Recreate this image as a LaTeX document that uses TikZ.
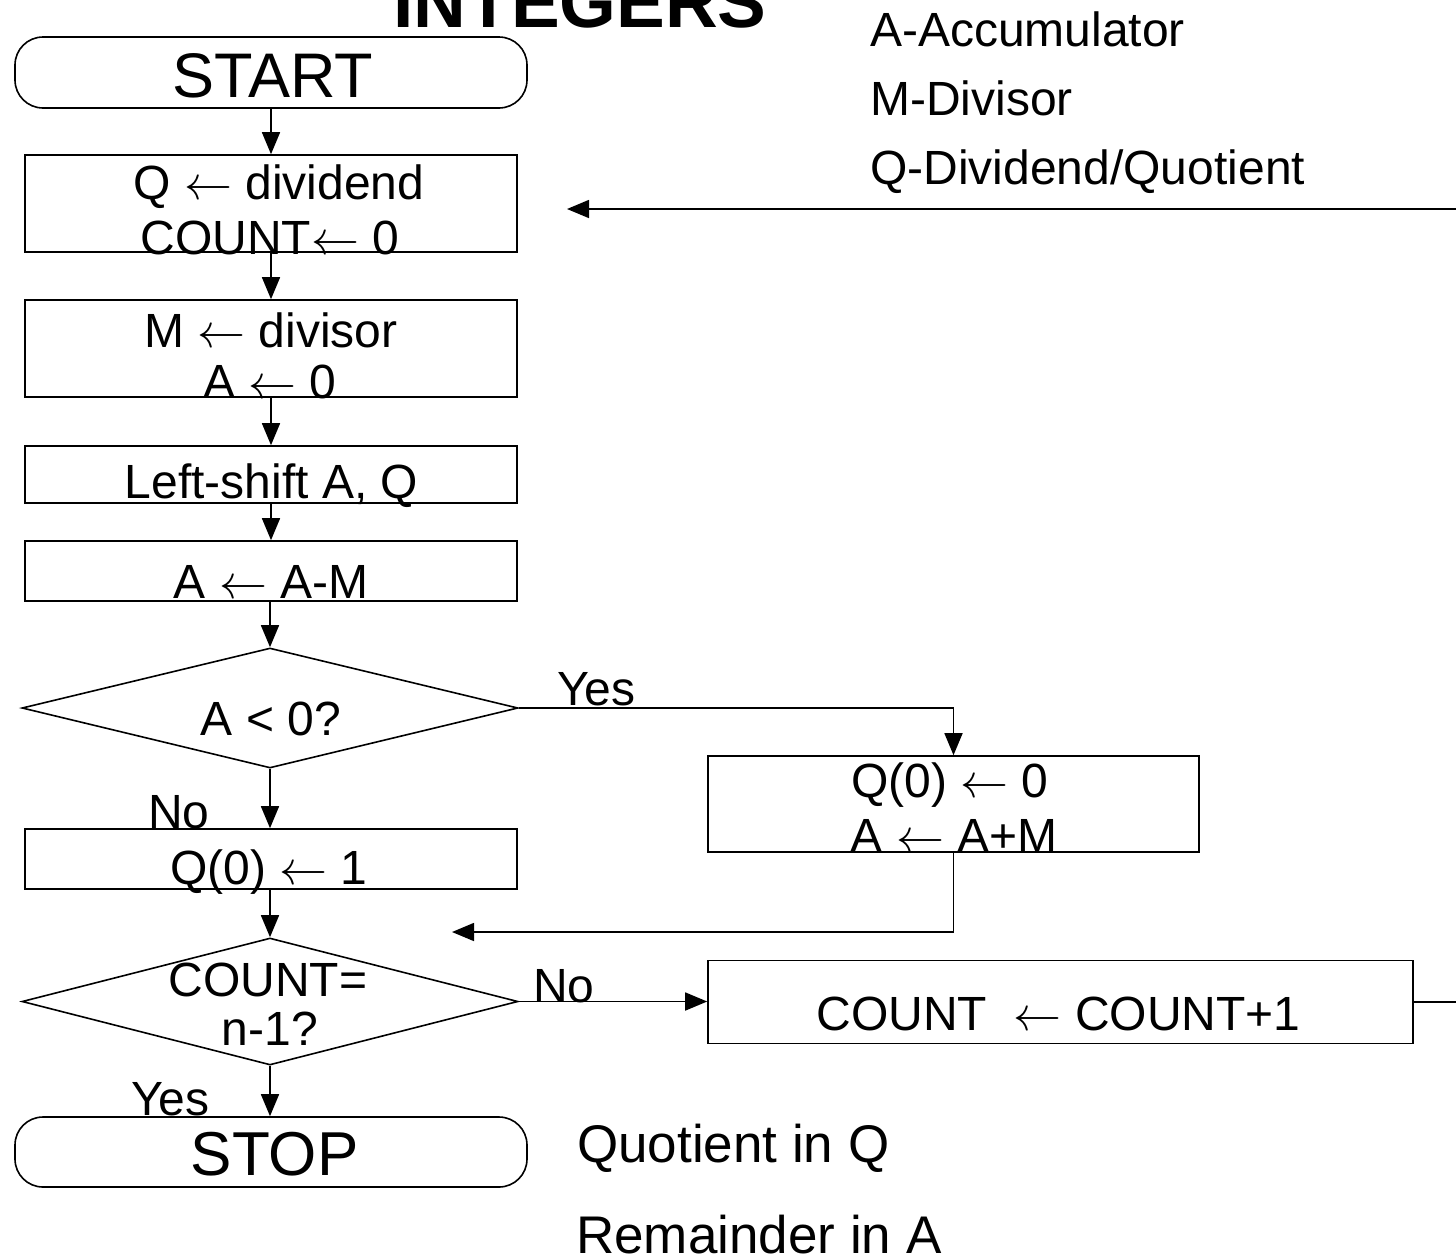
\documentclass[tikz,border=0pt]{standalone}
\usepackage{fix-cm}
\usepackage{fontspec}
\setmainfont{Liberation Sans}
\usetikzlibrary{arrows.meta,shapes.geometric}

\newcommand{\larr}{\ensuremath{\leftarrow}}

\tikzset{
  lbl/.style={inner sep=0pt, font=\fontsize{48}{56}\selectfont},
  note/.style={inner sep=0pt, font=\fontsize{53}{60}\selectfont},
  big/.style={inner sep=0pt, font=\fontsize{63}{70}\selectfont},
  headline/.style={inner sep=0pt, font=\fontsize{73}{80}\selectfont\bfseries},
  procbox/.style={draw, line width=1.6pt, inner sep=0pt},
  terminal/.style={draw, line width=1.6pt, inner sep=0pt, rounded corners=28pt},
  decision/.style={draw, diamond, line width=1.6pt, inner sep=0pt},
  flow/.style={line width=1.6pt, -{Triangle[width=18pt,length=22pt]}},
  link/.style={line width=1.6pt}
}

\begin{document}
\begin{tikzpicture}[x=1pt,y=-1pt]
\useasboundingbox (0,0) rectangle (1456,1259);
\fill[white] (0,0) rectangle (1456,1259);
\clip (0,0) rectangle (1456,1259);

% heading and register legend
\node[headline, anchor=base] (title) at (580,27) {INTEGERS};
\node[lbl, anchor=base west] (legA) at (870,46) {A-Accumulator};
\node[lbl, anchor=base west] (legM) at (870,115) {M-Divisor};
\node[lbl, anchor=base west] (legQ) at (870,184) {Q-Dividend/Quotient};

% flowchart shapes
\node[terminal, minimum width=512, minimum height=71] (start) at (271,72.5) {};
\node[procbox, minimum width=492, minimum height=97] (b1) at (271,203.5) {};
\node[procbox, minimum width=492, minimum height=97] (b2) at (271,348.5) {};
\node[procbox, minimum width=492, minimum height=57] (b3) at (271,474.5) {};
\node[procbox, minimum width=492, minimum height=60] (b4) at (271,571) {};
\node[decision, minimum width=496, minimum height=120] (d1) at (270,708) {};
\node[procbox, minimum width=491, minimum height=96] (b5) at (953.5,804) {};
\node[procbox, minimum width=492, minimum height=60] (b6) at (271,859) {};
\node[decision, minimum width=496, minimum height=127] (d2) at (270,1001.5) {};
\node[procbox, minimum width=705, minimum height=83] (b7) at (1060.5,1002) {};
\node[terminal, minimum width=512, minimum height=70] (stop) at (271,1152) {};

% texts inside the shapes
\node[big, anchor=base] (startT) at (273,97) {START};
\node[lbl, anchor=base] (b1a) at (279,199) {Q \larr{} dividend};
\node[lbl, anchor=base] (b1b) at (270,254) {COUNT\larr{} 0};
\node[lbl, anchor=base] (b2a) at (271,347) {M \larr{} divisor};
\node[lbl, anchor=base] (b2b) at (270,398) {A \larr{} 0};
\node[lbl, anchor=base] (b3a) at (271.5,498) {Left-shift A, Q};
\node[lbl, anchor=base] (b4a) at (271,598) {A \larr{} A-M};
\node[lbl, anchor=base] (d1a) at (271,735) {A < 0?};
\node[lbl, anchor=base] (b5a) at (950,797) {Q(0) \larr{} 0};
\node[lbl, anchor=base] (b5b) at (954,852) {A \larr{} A+M};
\node[lbl, anchor=base] (b6a) at (269,884) {Q(0) \larr{} 1};
\node[lbl, anchor=base] (d2a) at (268,996) {COUNT=};
\node[lbl, anchor=base] (d2b) at (270,1045) {n-1?};
\node[lbl, anchor=base] (b7a) at (1058.5,1030) {COUNT\ \ \larr{} COUNT+1};
\node[big, anchor=base, font=\fontsize{62}{70}\selectfont] (stopT) at (274.5,1175) {STOP};

% branch labels
\node[lbl, anchor=base west] (yes1) at (557,705) {Yes};
\node[lbl, anchor=base west] (no1) at (148,828) {No};
\node[lbl, anchor=base west] (no2) at (533,1002) {No};
\node[lbl, anchor=base west] (yes2) at (131,1115) {Yes};

% results
\node[note, anchor=base west] (res1) at (577,1162) {Quotient in Q};
\node[note, anchor=base west] (res2) at (576,1253) {Remainder in A};

% connector end points
\coordinate (join) at (452,932);
\coordinate (loopin) at (567,209);
\coordinate (edgetop) at (1456,209);
\coordinate (edgebot) at (1456,1002);

% connectors
\draw[flow] (start.south) -- (b1.north);
\draw[flow] (b1.south) -- (b2.north);
\draw[flow] (b2.south) -- (b3.north);
\draw[flow] (b3.south) -- (b4.north);
\draw[flow] (b4.south -| d1.north) -- (d1.north);
\draw[flow] (d1.south) -- (d1.south |- b6.north);
\draw[flow] (b6.south -| d2.north) -- (d2.north);
\draw[flow] (d2.south) -- (d2.south |- stop.north);
\draw[flow] (d1.east) -| (b5.north);
\draw[flow] (b5.south) |- (join);
\draw[flow] (d2.east) -- (d2.east -| b7.west);
\draw[link] (b7.east) -- (edgebot);
\draw[flow] (edgetop) -- (loopin);
\end{tikzpicture}
\end{document}
